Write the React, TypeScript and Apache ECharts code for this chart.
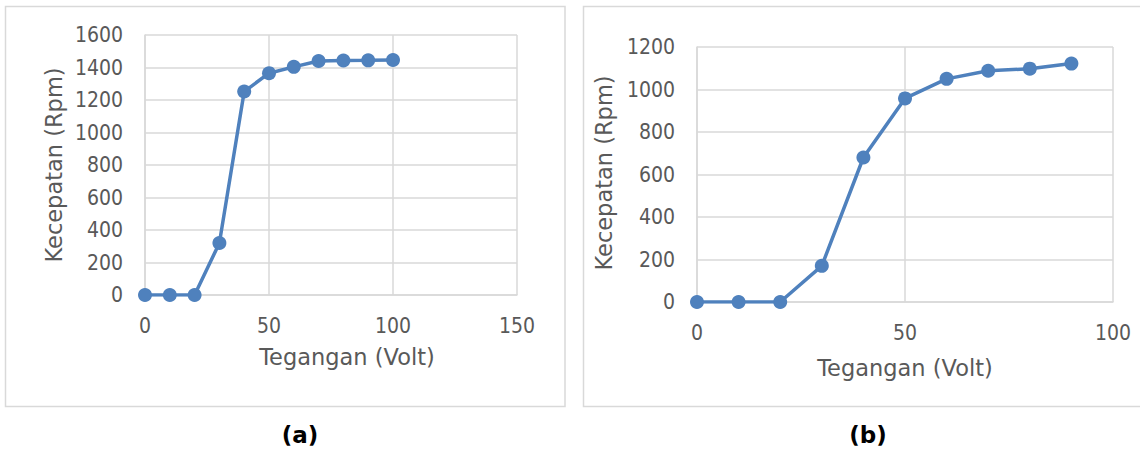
import React, { useEffect, useRef } from "react";
import * as echarts from "echarts";

const voltA = [0, 10, 20, 30, 40, 50, 60, 70, 80, 90, 100];
const rpmA = [0, 0, 0, 320, 1252, 1365, 1404, 1440, 1443, 1444, 1446];
const voltB = [0, 10, 20, 30, 40, 50, 60, 70, 80, 90];
const rpmB = [0, 0, 0, 170, 680, 958, 1050, 1088, 1098, 1122];

const xTitle = "Tegangan (Volt)";
const yTitle = "Kecepatan (Rpm)";
const panelLabels = ["(a)", "(b)"];

const TICK_FONT = "'DejaVu Sans Condensed', 'DejaVu Sans', sans-serif";
const FONT = "'DejaVu Sans', sans-serif";
const TXT = "#595959";
const GRID = "#d9d9d9";
const BLUE = "#4f81bd";

export default function App() {
  const ref = useRef<HTMLDivElement>(null);
  useEffect(() => {
    if (!ref.current) return;
    const chart = echarts.init(ref.current, null, { renderer: "svg" });
    const axisCommon = {
      type: "value" as const,
      axisLine: { show: true, lineStyle: { color: GRID, width: 1.5 } },
      axisTick: { show: false },
      splitLine: { show: true, lineStyle: { color: GRID, width: 1.5 } },
    };
    const fmt = (v: number) => String(v);
    const xLabel = { color: TXT, fontFamily: TICK_FONT, fontSize: 21, margin: 20, formatter: fmt };
    const yLabel = { color: TXT, fontFamily: TICK_FONT, fontSize: 21, margin: 22, formatter: fmt };
    const lineSeries = (xi: number, xs: number[], ys: number[]) => ({
      type: "line",
      xAxisIndex: xi,
      yAxisIndex: xi,
      data: xs.map((v, i) => [v, ys[i]]),
      symbol: "circle",
      symbolSize: 14,
      lineStyle: { color: BLUE, width: 3.5 },
      itemStyle: { color: BLUE },
    });
    chart.setOption({
      animation: false,
      grid: [
        { left: 145, top: 35, width: 372, height: 260 },
        { left: 697, top: 47, width: 416, height: 255 },
      ],
      xAxis: [
        { ...axisCommon, gridIndex: 0, min: 0, max: 150, interval: 50, axisLabel: xLabel },
        { ...axisCommon, gridIndex: 1, min: 0, max: 100, interval: 50, axisLabel: xLabel },
      ],
      yAxis: [
        { ...axisCommon, gridIndex: 0, min: 0, max: 1600, interval: 200, axisLabel: yLabel },
        { ...axisCommon, gridIndex: 1, min: 0, max: 1200, interval: 200, axisLabel: yLabel },
      ],
      series: [lineSeries(0, voltA, rpmA), lineSeries(1, voltB, rpmB)],
      graphic: [
        { type: "rect", shape: { x: 5.5, y: 6.5, width: 559.5, height: 400 }, style: { fill: "none", stroke: GRID, lineWidth: 1.5 }, silent: true },
        { type: "rect", shape: { x: 583.5, y: 6.5, width: 560, height: 400 }, style: { fill: "none", stroke: GRID, lineWidth: 1.5 }, silent: true },
        { type: "text", x: 347, y: 357, style: { text: xTitle, fill: TXT, font: `22.5px ${FONT}`, textAlign: "center", textVerticalAlign: "middle" } },
        { type: "text", x: 905, y: 368, style: { text: xTitle, fill: TXT, font: `22.5px ${FONT}`, textAlign: "center", textVerticalAlign: "middle" } },
        { type: "text", x: 54, y: 165, rotation: Math.PI / 2, style: { text: yTitle, fill: TXT, font: `22.5px ${FONT}`, textAlign: "center", textVerticalAlign: "middle" } },
        { type: "text", x: 604, y: 173, rotation: Math.PI / 2, style: { text: yTitle, fill: TXT, font: `22.5px ${FONT}`, textAlign: "center", textVerticalAlign: "middle" } },
        { type: "text", x: 300, y: 435, style: { text: panelLabels[0], fill: "#000", font: `bold 23px ${FONT}`, textAlign: "center", textVerticalAlign: "middle" } },
        { type: "text", x: 868, y: 435, style: { text: panelLabels[1], fill: "#000", font: `bold 23px ${FONT}`, textAlign: "center", textVerticalAlign: "middle" } },
      ],
    });
    return () => chart.dispose();
  }, []);
  return (
    <div
      ref={ref}
      style={{ position: "absolute", left: 0, top: 0, width: 1140, height: 453, background: "#fff" }}
    />
  );
}
